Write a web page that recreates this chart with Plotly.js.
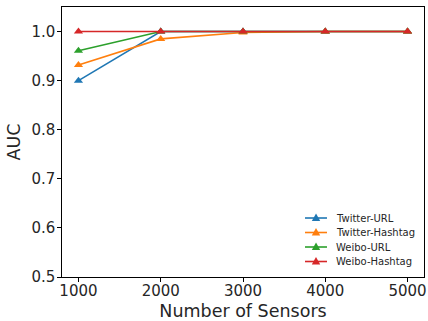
<!DOCTYPE html>
<html><head><meta charset="utf-8">
<script src="https://cdn.plot.ly/plotly-3.0.1.min.js"></script>
<style>html,body{margin:0;padding:0;background:#fff}</style>
</head><body><div id="chart" style="width:428px;height:321px"></div>
<script>
const sensors = [1000, 2000, 3000, 4000, 5000];
const twitterURL = [0.900, 1.000, 1.000, 1.000, 1.000];
const twitterHashtag = [0.932, 0.985, 0.998, 1.000, 1.000];
const weiboURL = [0.961, 1.000, 1.000, 1.000, 1.000];
const weiboHashtag = [1.000, 1.000, 1.000, 1.000, 1.000];
const names = ['Twitter-URL', 'Twitter-Hashtag', 'Weibo-URL', 'Weibo-Hashtag'];
const colors = ['#1f77b4', '#ff7f0e', '#2ca02c', '#d62728'];
const series = [twitterURL, twitterHashtag, weiboURL, weiboHashtag];
const xTicks = [1000, 2000, 3000, 4000, 5000];
const yTicks = [0.5, 0.6, 0.7, 0.8, 0.9, 1.0];
const yTickText = ['0.5', '0.6', '0.7', '0.8', '0.9', '1.0'];

const FONT = 'DejaVu Sans, sans-serif';
const TXT = '#262626';

const traces = series.map((s, i) => ({
  x: sensors, y: s, name: names[i], type: 'scatter', mode: 'lines+markers',
  showlegend: false,
  line: {color: colors[i], width: 1.6},
  marker: {symbol: 'triangle-up', size: 8, color: colors[i]}
}));

// Custom legend (matplotlib-like compact spacing)
const legX0 = 0.6713, legX1 = 0.732, legXm = 0.7017, legTextX = 0.7514;
const legTopY = 0.2185, legStep = 0.0537;
const shapes = [], annotations = [];
names.forEach((n, i) => {
  const y = legTopY - i * legStep;
  shapes.push({type: 'line', xref: 'paper', yref: 'paper', x0: legX0, x1: legX1, y0: y, y1: y,
    line: {color: colors[i], width: 1.6}});
  shapes.push({type: 'path', xref: 'paper', yref: 'paper', xsizemode: 'pixel', ysizemode: 'pixel',
    xanchor: legXm, yanchor: y, path: 'M -4.2 -3 L 4.2 -3 L 0 4.4 Z',
    fillcolor: colors[i], line: {width: 0}});
  annotations.push({xref: 'paper', yref: 'paper', x: legTextX, y: y, xanchor: 'left', yanchor: 'middle',
    text: n, showarrow: false, font: {family: FONT, size: 10, color: TXT}});
});

const layout = {
  width: 428, height: 321,
  margin: {l: 62, r: 4, t: 7, b: 44},
  paper_bgcolor: '#fff', plot_bgcolor: '#fff',
  font: {family: FONT, color: TXT},
  showlegend: false,
  shapes: shapes, annotations: annotations,
  xaxis: {range: [800, 5200], tickvals: xTicks, ticktext: xTicks.map(String),
    showgrid: false, zeroline: false, showline: true, mirror: true,
    linecolor: '#000', linewidth: 1.2, ticks: 'outside', ticklen: 3.5, tickcolor: '#000',
    ticklabelstandoff: -4,
    tickfont: {size: 15, family: FONT, color: TXT},
    title: {text: 'Number of Sensors', font: {size: 17.5, family: FONT, color: TXT}, standoff: 6}},
  yaxis: {range: [0.5, 1.05], tickvals: yTicks, ticktext: yTickText,
    showgrid: false, zeroline: false, showline: true, mirror: true,
    linecolor: '#000', linewidth: 1.2, ticks: 'outside', ticklen: 3.5, tickcolor: '#000',
    ticklabelstandoff: -1,
    tickfont: {size: 15, family: FONT, color: TXT},
    title: {text: 'AUC', font: {size: 17.5, family: FONT, color: TXT}, standoff: 6}}
};
Plotly.newPlot('chart', traces, layout, {displayModeBar: false, staticPlot: true});
</script></body></html>
